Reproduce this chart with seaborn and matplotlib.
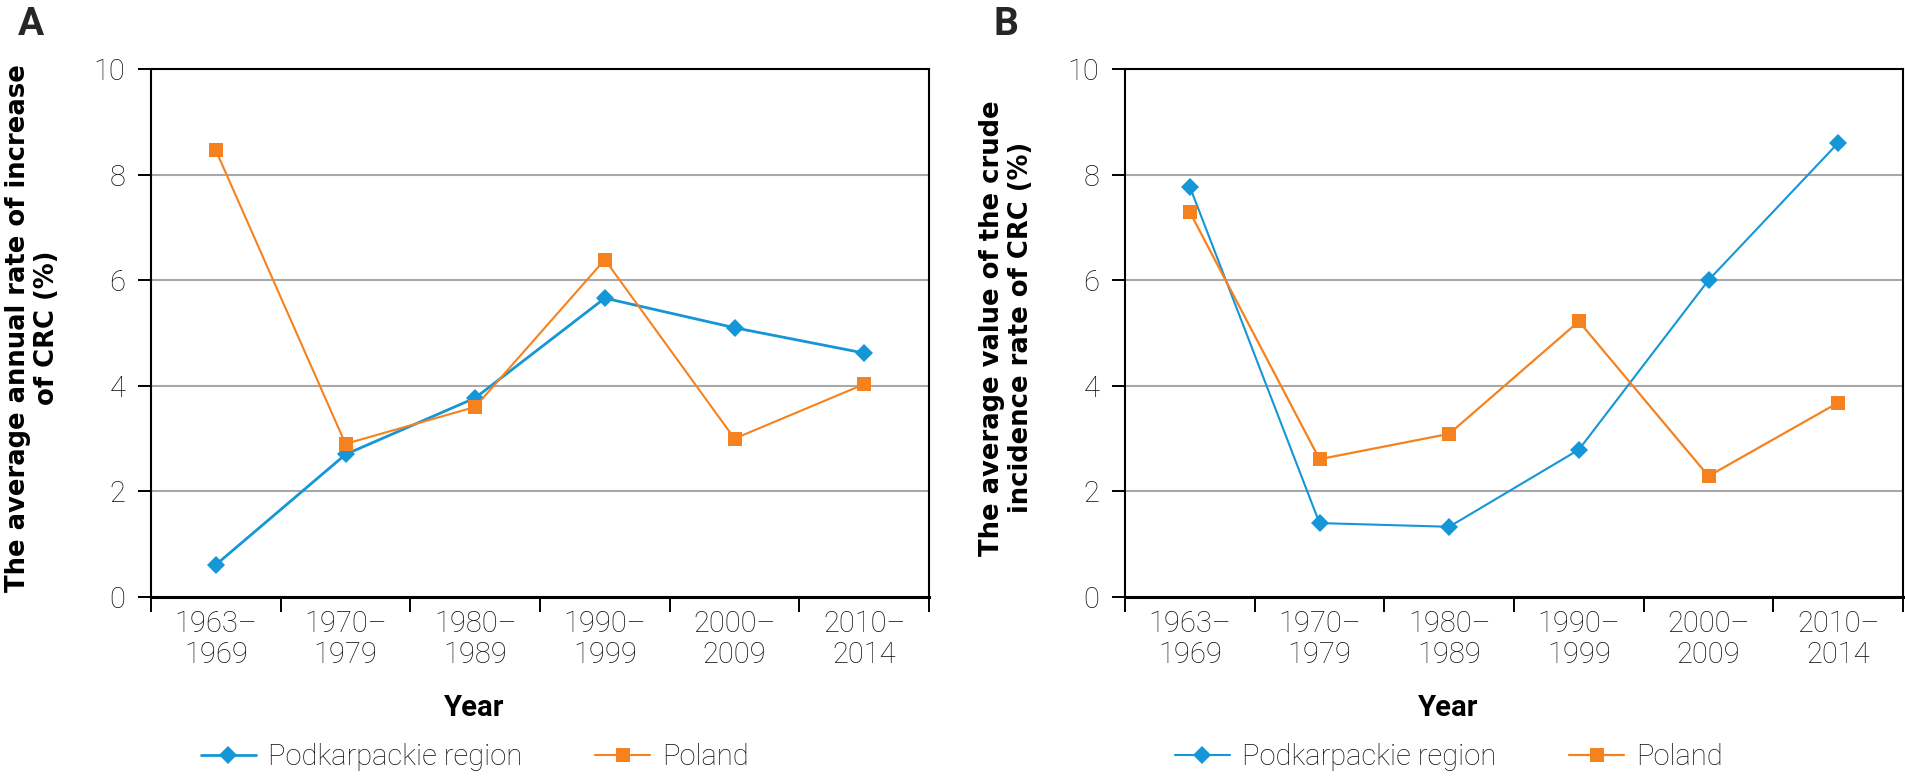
import numpy as np
import pandas as pd
import matplotlib
matplotlib.use("Agg")
import matplotlib.pyplot as plt
import seaborn as sns
from matplotlib.ticker import FixedLocator, NullFormatter, FixedFormatter

# Data
periods = ["1963–\n1969", "1970–\n1979", "1980–\n1989",
           "1990–\n1999", "2000–\n2009", "2010–\n2014"]
series_names = ["Podkarpackie region", "Poland"]

# Panel A: average annual rate of increase of CRC (%)
rate_podkarpackie = [0.61, 2.70, 3.77, 5.66, 5.10, 4.62]
rate_poland = [8.46, 2.90, 3.60, 6.39, 3.00, 4.03]

# Panel B: average value of the crude incidence rate of CRC (%)
crude_podkarpackie = [7.77, 1.40, 1.33, 2.79, 6.00, 8.60]
crude_poland = [7.29, 2.61, 3.09, 5.22, 2.29, 3.68]

ylabel_a = "The average annual rate of increase\nof CRC (%)"
ylabel_b = "The average value of the crude\nincidence rate of CRC (%)"
y_ticks = [0, 2, 4, 6, 8, 10]

# Visualization style
sns.set_style("white")
plt.rcParams['font.family'] = ['Roboto', 'DejaVu Sans']

BLUE = "#1596D6"
ORANGE = "#F5821F"
palette = {series_names[0]: BLUE, series_names[1]: ORANGE}
markers = {series_names[0]: "D", series_names[1]: "s"}
TICK_FS = 21


def make_frame(pod, pol):
    n = len(periods)
    return pd.DataFrame({
        "pos": list(range(n)) * 2,
        "value": pod + pol,
        "series": [series_names[0]] * n + [series_names[1]] * n,
    })


def draw_panel(ax, df, ylabel, widths):
    sns.lineplot(data=df, x="pos", y="value", hue="series", style="series",
                 palette=palette, markers=markers, dashes=False,
                 markeredgewidth=0, legend=False, ax=ax)
    lines = ax.lines[:2]
    for line, lw in zip(lines, widths):
        line.set_linewidth(lw)
        line.set_markersize(9.5 if line.get_marker() == "D" else 10.5)
        line.set_markeredgewidth(0)

    ax.set_xlim(-0.5, len(periods) - 0.5)
    ax.set_ylim(0, 10)
    ax.set_yticks(y_ticks)

    # category boundaries as major ticks, labels on minor ticks
    ax.xaxis.set_major_locator(FixedLocator(np.arange(-0.5, len(periods), 1.0)))
    ax.xaxis.set_major_formatter(NullFormatter())
    ax.xaxis.set_minor_locator(FixedLocator(np.arange(len(periods))))
    ax.xaxis.set_minor_formatter(FixedFormatter(periods))
    ax.tick_params(axis="x", which="major", direction="out", length=10.8,
                   width=1.4, color="black", bottom=True)
    ax.tick_params(axis="x", which="minor", length=0, pad=9,
                   labelsize=TICK_FS, labelcolor="#111111")
    ax.tick_params(axis="y", direction="out", length=9.4, width=1.4,
                   color="black", left=True, pad=9, labelsize=TICK_FS,
                   labelcolor="#111111")
    for lab in ax.get_yticklabels() + ax.get_xticklabels(minor=True):
        lab.set_fontweight("light")
        lab.set_linespacing(1.15)

    ax.grid(True, axis="y", color="#A8A8A8", linewidth=1.5)
    ax.set_axisbelow(True)
    for side, sp in ax.spines.items():
        sp.set_visible(True)
        sp.set_color("black")
        sp.set_linewidth(2.2 if side == "bottom" else 1.5)

    ax.set_ylabel(ylabel, fontsize=18.6, fontweight="bold",
                  family="DejaVu Sans", color="black", linespacing=1.15)
    ax.yaxis.label.set_va("center")
    ax.yaxis.set_label_coords(-0.152, 0.51)

    ax.set_xlabel("Year", fontsize=21, fontweight="bold", color="black")
    ax.xaxis.label.set_va("center")
    ax.xaxis.set_label_coords(0.416, -0.21)

    leg = ax.legend(handles=lines, labels=series_names, loc="center",
                    bbox_to_anchor=(0.416, -0.303), ncol=2, frameon=False,
                    fontsize=TICK_FS, handlelength=1.9, handletextpad=0.4,
                    columnspacing=2.5)
    for t in leg.get_texts():
        t.set_fontweight("light")
        t.set_color("#111111")


fig = plt.figure(figsize=(19.05, 7.76), dpi=100)
ax_a = fig.add_axes([151 / 1905, 1 - 597 / 776, 778 / 1905, 528 / 776])
ax_b = fig.add_axes([1125 / 1905, 1 - 597 / 776, 778 / 1905, 528 / 776])

draw_panel(ax_a, make_frame(rate_podkarpackie, rate_poland), ylabel_a, (2.0, 1.5))
draw_panel(ax_b, make_frame(crude_podkarpackie, crude_poland), ylabel_b, (1.5, 1.6))

fig.text(18 / 1905, 1 - 6 / 776, "A", fontsize=28, fontweight="bold", va="top")
fig.text(994 / 1905, 1 - 6 / 776, "B", fontsize=28, fontweight="bold", va="top")

fig.savefig("out.png", dpi=100)
